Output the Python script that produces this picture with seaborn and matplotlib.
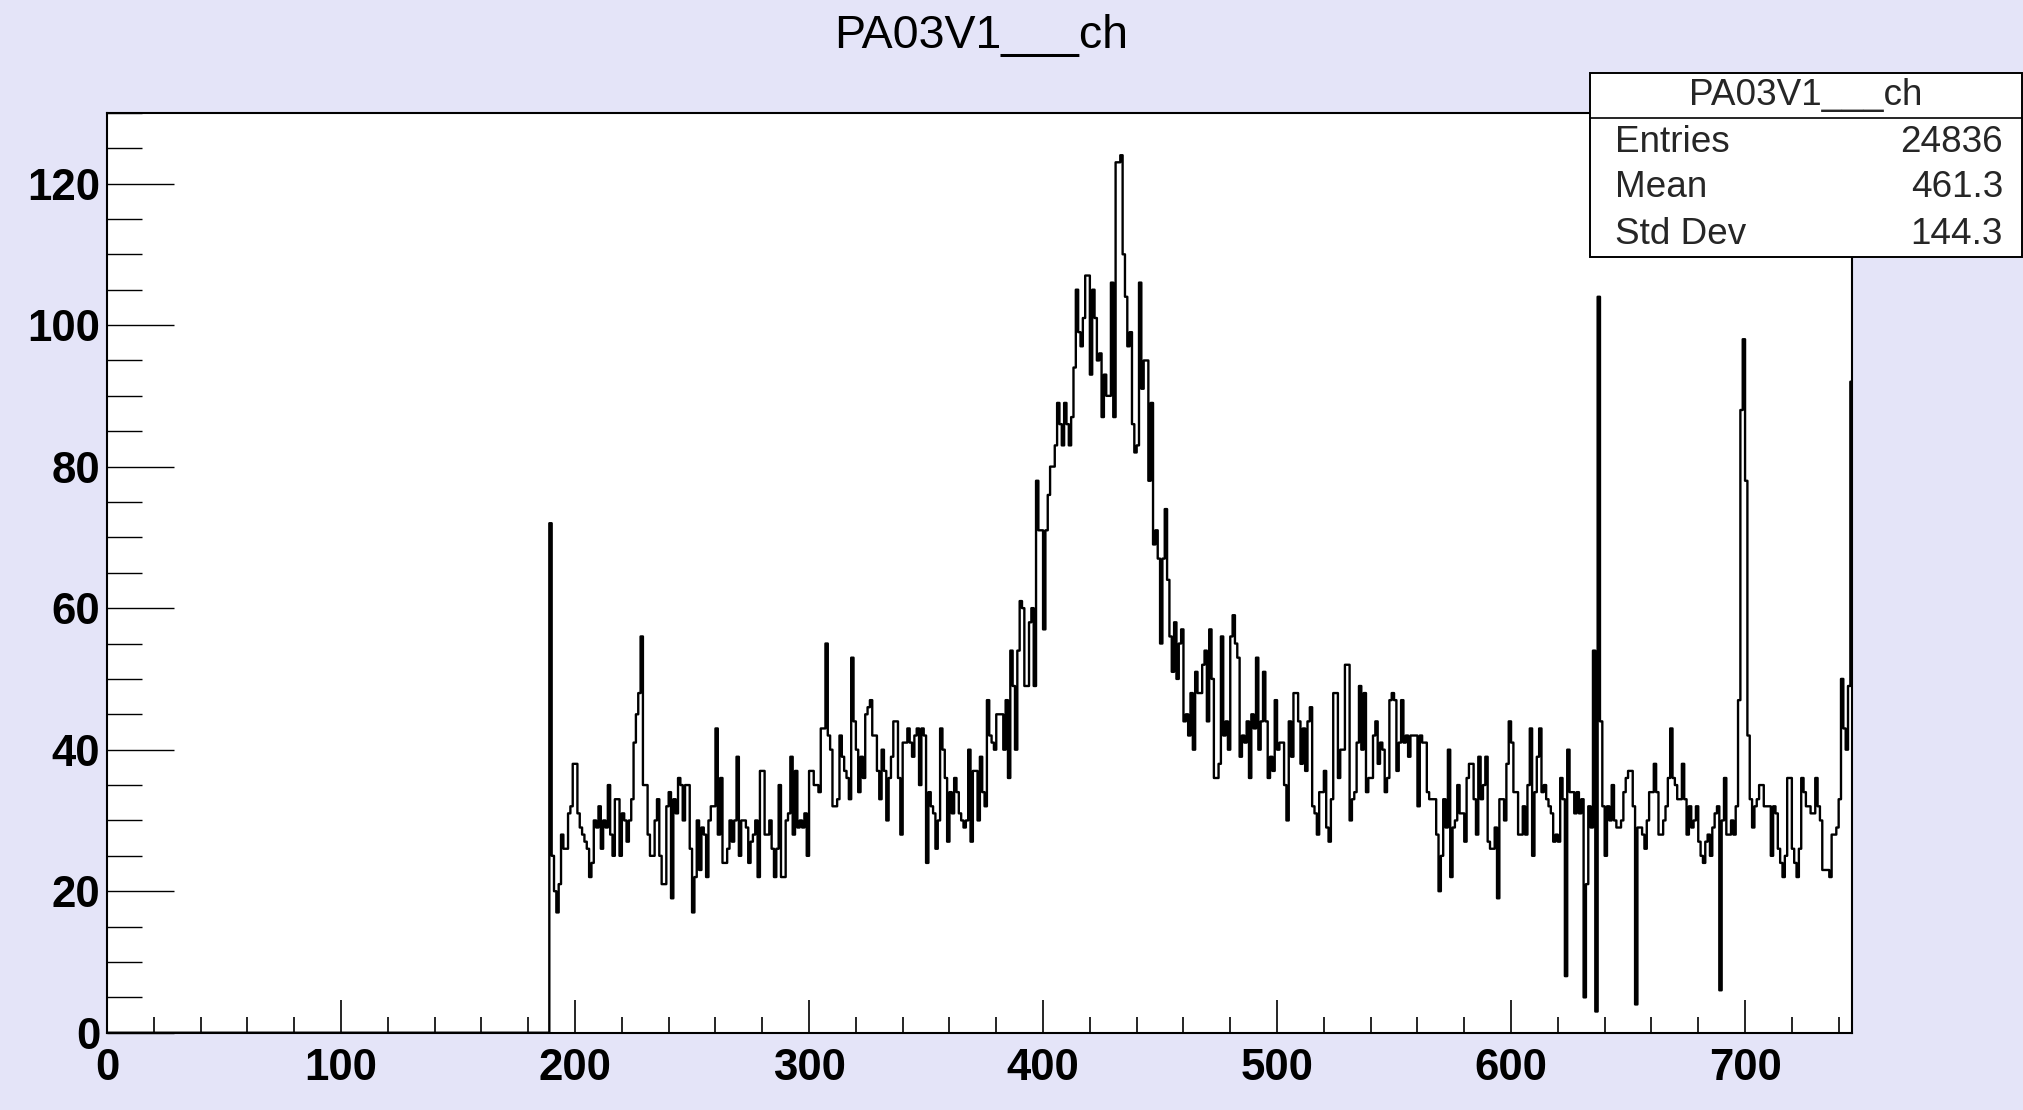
import numpy as np
import pandas as pd
import matplotlib
matplotlib.use("Agg")
import matplotlib.pyplot as plt
import seaborn as sns
from matplotlib.ticker import MultipleLocator
from matplotlib.patches import Rectangle
from matplotlib.lines import Line2D

# ---------------- data ----------------
title = "PA03V1___ch"
stats_labels = ["Entries", "Mean", "Std Dev"]
stats_values = ["24836", "461.3", "144.3"]
x_ticks = [0, 100, 200, 300, 400, 500, 600, 700]
y_ticks = [0, 20, 40, 60, 80, 100, 120]
first_bin = 189  # left edge of first non-empty bin (bin width 1)

counts_189_244 = [72, 25, 20, 17, 21, 28, 26, 26, 31, 32, 38, 38, 31, 29, 28, 27, 26, 22, 24, 30,
                  29, 32, 26, 30, 29, 35, 28, 25, 33, 33, 25, 31, 30, 27, 30, 33, 41, 45, 48, 56,
                  35, 35, 28, 25, 25, 30, 33, 25, 21, 21, 32, 34, 19, 33, 31, 36]
counts_245_302 = [35, 30, 35, 35, 26, 17, 22, 30, 23, 29, 28, 22, 30, 32, 32, 43, 28, 36, 24, 24,
                  26, 30, 27, 30, 39, 25, 30, 30, 29, 24, 27, 28, 30, 22, 37, 37, 28, 28, 30, 26,
                  22, 26, 35, 22, 22, 30, 31, 39, 28, 37, 29, 30, 29, 31, 25, 37, 37, 35]
counts_303_360 = [35, 34, 43, 43, 55, 42, 40, 32, 32, 33, 42, 39, 37, 36, 33, 53, 44, 40, 34, 39,
                  36, 45, 46, 47, 42, 42, 37, 33, 40, 37, 30, 36, 39, 44, 44, 36, 28, 41, 41, 43,
                  41, 39, 42, 43, 35, 43, 42, 24, 34, 32, 31, 26, 30, 43, 40, 36, 27, 34]
counts_361_417 = [31, 36, 34, 31, 30, 29, 30, 40, 27, 37, 37, 30, 39, 34, 32, 47, 42, 41, 40, 45,
                  45, 45, 40, 47, 36, 54, 49, 40, 54, 61, 60, 49, 49, 58, 60, 49, 78, 71, 71, 57,
                  71, 76, 80, 80, 83, 89, 86, 83, 89, 86, 83, 87, 94, 105, 99, 97, 101]
counts_418_475 = [107, 107, 93, 105, 101, 95, 96, 87, 93, 90, 90, 106, 87, 123, 123, 124, 110, 104,
                  97, 99, 86, 82, 83, 106, 91, 95, 95, 78, 89, 69, 71, 67, 55, 67, 74, 64, 56, 51,
                  58, 50, 55, 57, 44, 45, 42, 48, 40, 51, 48, 48, 52, 54, 44, 57, 50, 36, 36, 38]
counts_476_532 = [56, 42, 44, 40, 56, 59, 55, 53, 39, 42, 41, 44, 36, 45, 43, 53, 40, 44, 51, 44,
                  36, 39, 37, 47, 40, 41, 41, 35, 30, 44, 39, 48, 48, 44, 38, 43, 37, 44, 46, 32,
                  31, 28, 34, 34, 37, 29, 27, 33, 48, 48, 36, 40, 40, 52, 52, 30, 33]
counts_533_590 = [34, 41, 49, 40, 48, 34, 36, 36, 42, 44, 38, 41, 40, 34, 36, 47, 48, 47, 37, 41,
                  47, 41, 42, 39, 42, 42, 42, 32, 42, 41, 41, 34, 33, 33, 33, 28, 20, 25, 33, 29,
                  40, 22, 29, 30, 35, 31, 31, 27, 36, 38, 38, 33, 28, 39, 33, 35, 39, 27]
counts_591_648 = [26, 26, 29, 19, 33, 33, 30, 38, 44, 41, 34, 34, 28, 28, 32, 28, 35, 43, 25, 34,
                  39, 43, 34, 35, 33, 32, 31, 27, 28, 27, 36, 33, 8, 40, 34, 34, 31, 34, 31, 33,
                  5, 21, 32, 29, 54, 3, 104, 44, 32, 25, 32, 30, 35, 30, 29, 29, 30, 34]
counts_649_704 = [36, 37, 37, 32, 4, 29, 29, 28, 26, 30, 34, 34, 38, 34, 28, 28, 30, 32, 36, 43,
                  36, 35, 33, 33, 38, 33, 28, 32, 29, 30, 32, 27, 25, 24, 27, 28, 25, 29, 31, 32,
                  6, 30, 36, 28, 28, 30, 28, 32, 47, 88, 98, 78, 42, 33, 29, 32]
counts_705_745 = [33, 35, 35, 32, 32, 32, 25, 32, 31, 26, 24, 22, 25, 36, 36, 26, 24, 22, 26, 36,
                  34, 32, 32, 31, 31, 36, 32, 30, 23, 23, 23, 22, 28, 28, 29, 33, 50, 43, 40, 49, 92]

counts = (counts_189_244 + counts_245_302 + counts_303_360 + counts_361_417 + counts_418_475 +
          counts_476_532 + counts_533_590 + counts_591_648 + counts_649_704 + counts_705_745)

# ---------------- style ----------------
sns.set_theme(style="white")
plt.rcParams['font.family'] = ['Liberation Sans', 'DejaVu Sans']

bg = '#e4e4f8'
fig = plt.figure(figsize=(20.24, 11.10), dpi=100, facecolor=bg)
ax = fig.add_axes([0.0529, 0.0696, 0.9149 - 0.0529, 0.8984 - 0.0696])
ax.set_facecolor('white')

df = pd.DataFrame({
    "channel": np.arange(first_bin, first_bin + len(counts)) + 0.5,
    "count": counts,
})
sns.histplot(data=df, x="channel", weights="count", binwidth=1, binrange=(0, 746),
             element="step", fill=False, color="black", linewidth=1.7, alpha=1.0, ax=ax)

ax.set_xlim(0, 745.6)
ax.set_ylim(0, 130)
ax.set_xlabel("")
ax.set_ylabel("")

ax.set_xticks(x_ticks)
ax.set_yticks(y_ticks)
ax.xaxis.set_minor_locator(MultipleLocator(20))
ax.yaxis.set_minor_locator(MultipleLocator(5))
ax.tick_params(axis='x', which='major', direction='in', length=24, width=1.2, color='black',
               pad=11, labelsize=31.5, bottom=True, top=False)
ax.tick_params(axis='x', which='minor', direction='in', length=11.5, width=1.2, color='black',
               bottom=True, top=False)
ax.tick_params(axis='y', which='major', direction='in', length=48, width=1.0, color='black',
               pad=5, labelsize=31.5, left=True, right=False)
ax.tick_params(axis='y', which='minor', direction='in', length=25, width=1.0, color='black',
               left=True, right=False)
for lab in ax.get_xticklabels() + ax.get_yticklabels():
    lab.set_fontweight('bold')
    lab.set_color('black')
for sp in ax.spines.values():
    sp.set_color('black')
    sp.set_linewidth(1.5)

# title
fig.text(0.4847, 0.9568, title, ha='center', va='baseline', fontsize=33.5, color='black')

# stats box
x0, x1 = 0.7856, 0.9990
y0, y1 = 0.7687, 0.9345
box = Rectangle((x0, y0), x1 - x0, y1 - y0, transform=fig.transFigure,
                facecolor='white', edgecolor='black', linewidth=1.4, zorder=10)
fig.add_artist(box)
fig.add_artist(Line2D([x0, x1], [0.8934, 0.8934], transform=fig.transFigure,
                      color='black', linewidth=1.2, zorder=11))
fig.text((x0 + x1) / 2, 0.9054, title, ha='center', va='baseline', fontsize=26.6, zorder=12)
rows_y = [0.8633, 0.8222, 0.7802]
for lab, val, yy in zip(stats_labels, stats_values, rows_y):
    fig.text(0.798, yy, lab, ha='left', va='baseline', fontsize=26.6, zorder=12)
    fig.text(0.9896, yy, val, ha='right', va='baseline', fontsize=26.6, zorder=12)

fig.savefig("out.png", dpi=100, facecolor=bg)
